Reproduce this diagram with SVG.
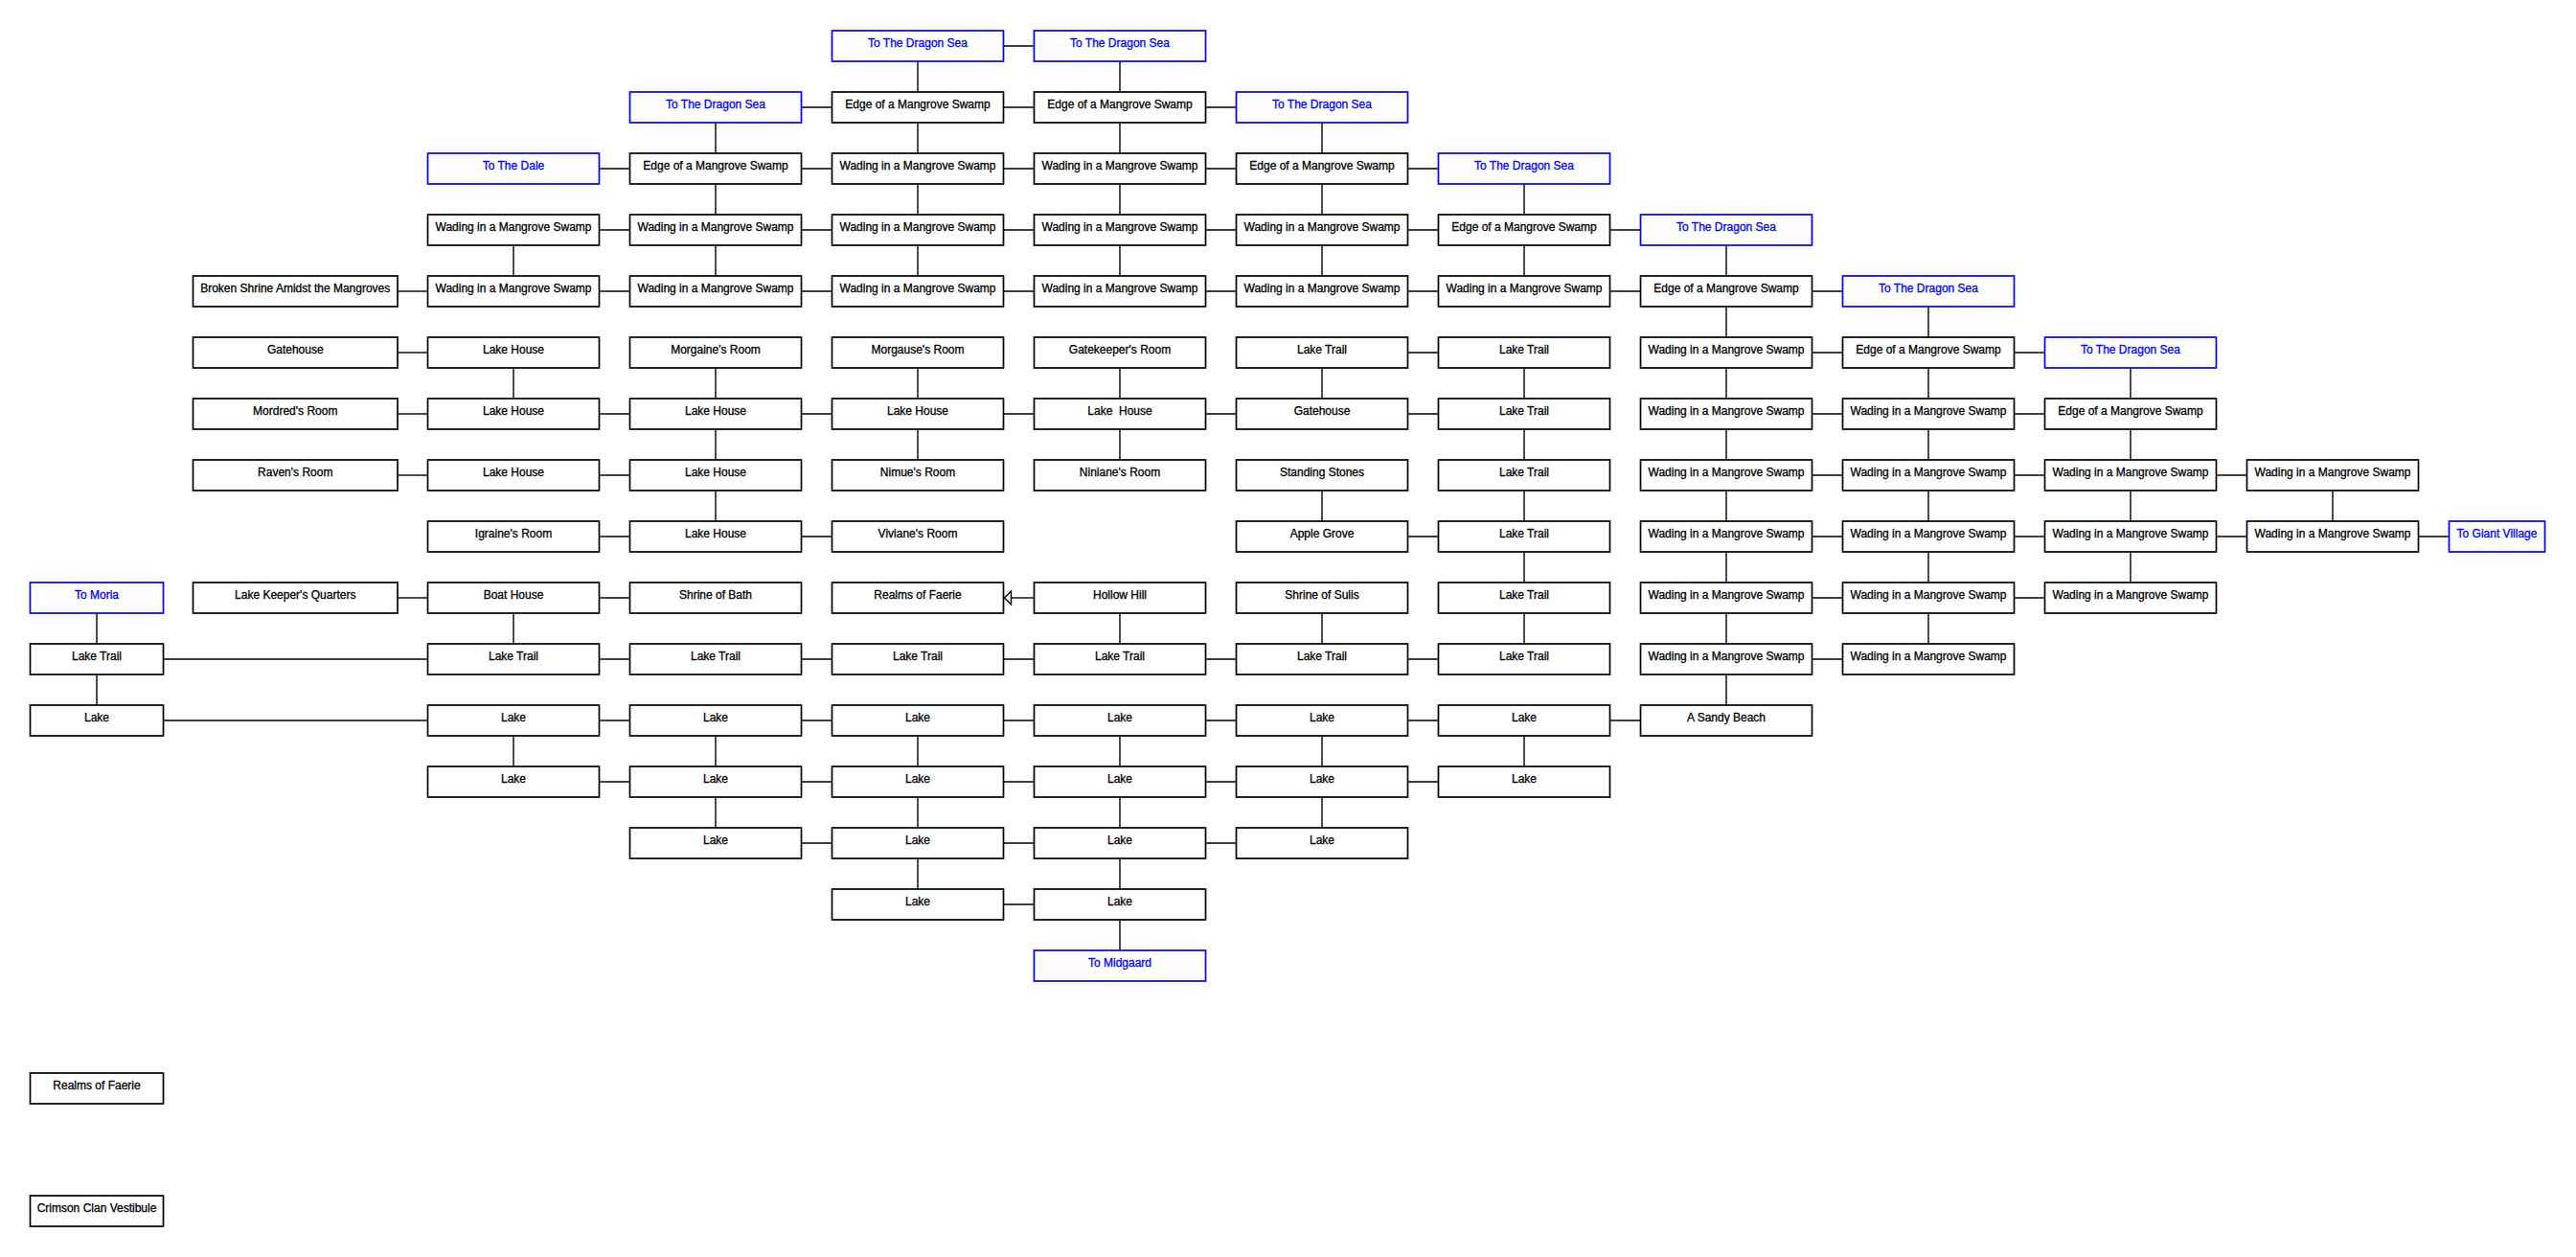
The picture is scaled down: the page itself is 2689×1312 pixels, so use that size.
<svg xmlns="http://www.w3.org/2000/svg" width="2689" height="1312" viewBox="0 0 2689 1312">
<style>
.box{fill:#fff;stroke:#000;stroke-width:1.7}
.exit{fill:#fff;stroke:#0000ff;stroke-width:1.7}
.lbl{font-family:"Liberation Sans",Arial,sans-serif;font-size:12px;fill:#000;stroke:#000;stroke-width:0.3;text-anchor:middle}
.lblx{font-family:"Liberation Sans",Arial,sans-serif;font-size:12px;fill:#0000ff;stroke:#0000ff;stroke-width:0.3;text-anchor:middle}
.c path{fill:none;stroke:#000;stroke-width:1.4}
.arrowhead{fill:#fff;stroke:#000;stroke-width:1.4}
</style>
<rect width="2689" height="1312" fill="#fff"/>
<g id="connectors" class="c">
<path d="M1047.5 48H1079.5"/>
<path d="M836.5 112H868.5"/><path d="M1047.5 112H1079.5"/><path d="M1258.5 112H1290.5"/>
<path d="M625.5 176H657.5"/><path d="M836.5 176H868.5"/><path d="M1047.5 176H1079.5"/><path d="M1258.5 176H1290.5"/><path d="M1469.5 176H1501.5"/>
<path d="M625.5 240H657.5"/><path d="M836.5 240H868.5"/><path d="M1047.5 240H1079.5"/><path d="M1258.5 240H1290.5"/><path d="M1469.5 240H1501.5"/><path d="M1680.5 240H1712.5"/>
<path d="M415 304H446.5"/><path d="M625.5 304H657.5"/><path d="M836.5 304H868.5"/><path d="M1047.5 304H1079.5"/><path d="M1258.5 304H1290.5"/><path d="M1469.5 304H1501.5"/><path d="M1680.5 304H1712.5"/><path d="M1891.5 304H1923.5"/>
<path d="M415 368H446.5"/><path d="M1469.5 368H1501.5"/><path d="M1891.5 368H1923.5"/><path d="M2102.5 368H2134.5"/>
<path d="M415 432H446.5"/><path d="M625.5 432H657.5"/><path d="M836.5 432H868.5"/><path d="M1047.5 432H1079.5"/><path d="M1258.5 432H1290.5"/><path d="M1469.5 432H1501.5"/><path d="M1891.5 432H1923.5"/><path d="M2102.5 432H2134.5"/>
<path d="M415 496H446.5"/><path d="M625.5 496H657.5"/><path d="M1891.5 496H1923.5"/><path d="M2102.5 496H2134.5"/><path d="M2313.5 496H2345.5"/>
<path d="M625.5 560H657.5"/><path d="M836.5 560H868.5"/><path d="M1469.5 560H1501.5"/><path d="M1891.5 560H1923.5"/><path d="M2102.5 560H2134.5"/><path d="M2313.5 560H2345.5"/><path d="M2524.5 560H2556.5"/>
<path d="M415 624H446.5"/><path d="M625.5 624H657.5"/><path d="M1079.5 624H1055.5"/><path d="M1891.5 624H1923.5"/><path d="M2102.5 624H2134.5"/>
<path d="M170.5 688H446.5"/><path d="M625.5 688H657.5"/><path d="M836.5 688H868.5"/><path d="M1047.5 688H1079.5"/><path d="M1258.5 688H1290.5"/><path d="M1469.5 688H1501.5"/><path d="M1891.5 688H1923.5"/>
<path d="M170.5 752H446.5"/><path d="M625.5 752H657.5"/><path d="M836.5 752H868.5"/><path d="M1047.5 752H1079.5"/><path d="M1258.5 752H1290.5"/><path d="M1469.5 752H1501.5"/><path d="M1680.5 752H1712.5"/>
<path d="M625.5 816H657.5"/><path d="M836.5 816H868.5"/><path d="M1047.5 816H1079.5"/><path d="M1258.5 816H1290.5"/><path d="M1469.5 816H1501.5"/>
<path d="M836.5 880H868.5"/><path d="M1047.5 880H1079.5"/><path d="M1258.5 880H1290.5"/>
<path d="M1047.5 944H1079.5"/>
<path d="M101 640V672"/><path d="M101 704V736"/>
<path d="M536 256V288"/><path d="M536 384V416"/><path d="M536 640V672"/><path d="M536 768V800"/>
<path d="M747 128V160"/><path d="M747 192V224"/><path d="M747 256V288"/><path d="M747 384V416"/><path d="M747 448V480"/><path d="M747 512V544"/><path d="M747 768V800"/><path d="M747 832V864"/>
<path d="M958 64V96"/><path d="M958 128V160"/><path d="M958 192V224"/><path d="M958 256V288"/><path d="M958 384V416"/><path d="M958 448V480"/><path d="M958 768V800"/><path d="M958 832V864"/><path d="M958 896V928"/>
<path d="M1169 64V96"/><path d="M1169 128V160"/><path d="M1169 192V224"/><path d="M1169 256V288"/><path d="M1169 384V416"/><path d="M1169 448V480"/><path d="M1169 640V672"/><path d="M1169 768V800"/><path d="M1169 832V864"/><path d="M1169 896V928"/><path d="M1169 960V992"/>
<path d="M1380 128V160"/><path d="M1380 192V224"/><path d="M1380 256V288"/><path d="M1380 384V416"/><path d="M1380 512V544"/><path d="M1380 640V672"/><path d="M1380 768V800"/><path d="M1380 832V864"/>
<path d="M1591 192V224"/><path d="M1591 256V288"/><path d="M1591 384V416"/><path d="M1591 448V480"/><path d="M1591 512V544"/><path d="M1591 576V608"/><path d="M1591 640V672"/><path d="M1591 768V800"/>
<path d="M1802 256V288"/><path d="M1802 320V352"/><path d="M1802 384V416"/><path d="M1802 448V480"/><path d="M1802 512V544"/><path d="M1802 576V608"/><path d="M1802 640V672"/><path d="M1802 704V736"/>
<path d="M2013 320V352"/><path d="M2013 384V416"/><path d="M2013 448V480"/><path d="M2013 512V544"/><path d="M2013 576V608"/><path d="M2013 640V672"/>
<path d="M2224 384V416"/><path d="M2224 448V480"/><path d="M2224 512V544"/><path d="M2224 576V608"/>
<path d="M2435 512V544"/>
<polygon class="arrowhead" points="1048.5,624 1055.5,617 1055.5,631"/>
</g>
<g id="nodes">
<g id="n_E0"><rect class="exit" x="868.5" y="32" width="179" height="32"/><text class="lblx" x="958" y="49">To The Dragon Sea</text></g>
<g id="n_F0"><rect class="exit" x="1079.5" y="32" width="179" height="32"/><text class="lblx" x="1169" y="49">To The Dragon Sea</text></g>
<g id="n_D1"><rect class="exit" x="657.5" y="96" width="179" height="32"/><text class="lblx" x="747" y="113">To The Dragon Sea</text></g>
<g id="n_E1"><rect class="box" x="868.5" y="96" width="179" height="32"/><text class="lbl" x="958" y="113">Edge of a Mangrove Swamp</text></g>
<g id="n_F1"><rect class="box" x="1079.5" y="96" width="179" height="32"/><text class="lbl" x="1169" y="113">Edge of a Mangrove Swamp</text></g>
<g id="n_G1"><rect class="exit" x="1290.5" y="96" width="179" height="32"/><text class="lblx" x="1380" y="113">To The Dragon Sea</text></g>
<g id="n_C2"><rect class="exit" x="446.5" y="160" width="179" height="32"/><text class="lblx" x="536" y="177">To The Dale</text></g>
<g id="n_D2"><rect class="box" x="657.5" y="160" width="179" height="32"/><text class="lbl" x="747" y="177">Edge of a Mangrove Swamp</text></g>
<g id="n_E2"><rect class="box" x="868.5" y="160" width="179" height="32"/><text class="lbl" x="958" y="177">Wading in a Mangrove Swamp</text></g>
<g id="n_F2"><rect class="box" x="1079.5" y="160" width="179" height="32"/><text class="lbl" x="1169" y="177">Wading in a Mangrove Swamp</text></g>
<g id="n_G2"><rect class="box" x="1290.5" y="160" width="179" height="32"/><text class="lbl" x="1380" y="177">Edge of a Mangrove Swamp</text></g>
<g id="n_H2"><rect class="exit" x="1501.5" y="160" width="179" height="32"/><text class="lblx" x="1591" y="177">To The Dragon Sea</text></g>
<g id="n_C3"><rect class="box" x="446.5" y="224" width="179" height="32"/><text class="lbl" x="536" y="241">Wading in a Mangrove Swamp</text></g>
<g id="n_D3"><rect class="box" x="657.5" y="224" width="179" height="32"/><text class="lbl" x="747" y="241">Wading in a Mangrove Swamp</text></g>
<g id="n_E3"><rect class="box" x="868.5" y="224" width="179" height="32"/><text class="lbl" x="958" y="241">Wading in a Mangrove Swamp</text></g>
<g id="n_F3"><rect class="box" x="1079.5" y="224" width="179" height="32"/><text class="lbl" x="1169" y="241">Wading in a Mangrove Swamp</text></g>
<g id="n_G3"><rect class="box" x="1290.5" y="224" width="179" height="32"/><text class="lbl" x="1380" y="241">Wading in a Mangrove Swamp</text></g>
<g id="n_H3"><rect class="box" x="1501.5" y="224" width="179" height="32"/><text class="lbl" x="1591" y="241">Edge of a Mangrove Swamp</text></g>
<g id="n_I3"><rect class="exit" x="1712.5" y="224" width="179" height="32"/><text class="lblx" x="1802" y="241">To The Dragon Sea</text></g>
<g id="n_B4"><rect class="box" x="201.5" y="288" width="213.5" height="32"/><text class="lbl" x="308.25" y="305">Broken Shrine Amidst the Mangroves</text></g>
<g id="n_C4"><rect class="box" x="446.5" y="288" width="179" height="32"/><text class="lbl" x="536" y="305">Wading in a Mangrove Swamp</text></g>
<g id="n_D4"><rect class="box" x="657.5" y="288" width="179" height="32"/><text class="lbl" x="747" y="305">Wading in a Mangrove Swamp</text></g>
<g id="n_E4"><rect class="box" x="868.5" y="288" width="179" height="32"/><text class="lbl" x="958" y="305">Wading in a Mangrove Swamp</text></g>
<g id="n_F4"><rect class="box" x="1079.5" y="288" width="179" height="32"/><text class="lbl" x="1169" y="305">Wading in a Mangrove Swamp</text></g>
<g id="n_G4"><rect class="box" x="1290.5" y="288" width="179" height="32"/><text class="lbl" x="1380" y="305">Wading in a Mangrove Swamp</text></g>
<g id="n_H4"><rect class="box" x="1501.5" y="288" width="179" height="32"/><text class="lbl" x="1591" y="305">Wading in a Mangrove Swamp</text></g>
<g id="n_I4"><rect class="box" x="1712.5" y="288" width="179" height="32"/><text class="lbl" x="1802" y="305">Edge of a Mangrove Swamp</text></g>
<g id="n_J4"><rect class="exit" x="1923.5" y="288" width="179" height="32"/><text class="lblx" x="2013" y="305">To The Dragon Sea</text></g>
<g id="n_B5"><rect class="box" x="201.5" y="352" width="213.5" height="32"/><text class="lbl" x="308.25" y="369">Gatehouse</text></g>
<g id="n_C5"><rect class="box" x="446.5" y="352" width="179" height="32"/><text class="lbl" x="536" y="369">Lake House</text></g>
<g id="n_D5"><rect class="box" x="657.5" y="352" width="179" height="32"/><text class="lbl" x="747" y="369">Morgaine's Room</text></g>
<g id="n_E5"><rect class="box" x="868.5" y="352" width="179" height="32"/><text class="lbl" x="958" y="369">Morgause's Room</text></g>
<g id="n_F5"><rect class="box" x="1079.5" y="352" width="179" height="32"/><text class="lbl" x="1169" y="369">Gatekeeper's Room</text></g>
<g id="n_G5"><rect class="box" x="1290.5" y="352" width="179" height="32"/><text class="lbl" x="1380" y="369">Lake Trail</text></g>
<g id="n_H5"><rect class="box" x="1501.5" y="352" width="179" height="32"/><text class="lbl" x="1591" y="369">Lake Trail</text></g>
<g id="n_I5"><rect class="box" x="1712.5" y="352" width="179" height="32"/><text class="lbl" x="1802" y="369">Wading in a Mangrove Swamp</text></g>
<g id="n_J5"><rect class="box" x="1923.5" y="352" width="179" height="32"/><text class="lbl" x="2013" y="369">Edge of a Mangrove Swamp</text></g>
<g id="n_K5"><rect class="exit" x="2134.5" y="352" width="179" height="32"/><text class="lblx" x="2224" y="369">To The Dragon Sea</text></g>
<g id="n_B6"><rect class="box" x="201.5" y="416" width="213.5" height="32"/><text class="lbl" x="308.25" y="433">Mordred's Room</text></g>
<g id="n_C6"><rect class="box" x="446.5" y="416" width="179" height="32"/><text class="lbl" x="536" y="433">Lake House</text></g>
<g id="n_D6"><rect class="box" x="657.5" y="416" width="179" height="32"/><text class="lbl" x="747" y="433">Lake House</text></g>
<g id="n_E6"><rect class="box" x="868.5" y="416" width="179" height="32"/><text class="lbl" x="958" y="433">Lake House</text></g>
<g id="n_F6"><rect class="box" x="1079.5" y="416" width="179" height="32"/><text class="lbl" x="1169" y="433" xml:space="preserve">Lake  House</text></g>
<g id="n_G6"><rect class="box" x="1290.5" y="416" width="179" height="32"/><text class="lbl" x="1380" y="433">Gatehouse</text></g>
<g id="n_H6"><rect class="box" x="1501.5" y="416" width="179" height="32"/><text class="lbl" x="1591" y="433">Lake Trail</text></g>
<g id="n_I6"><rect class="box" x="1712.5" y="416" width="179" height="32"/><text class="lbl" x="1802" y="433">Wading in a Mangrove Swamp</text></g>
<g id="n_J6"><rect class="box" x="1923.5" y="416" width="179" height="32"/><text class="lbl" x="2013" y="433">Wading in a Mangrove Swamp</text></g>
<g id="n_K6"><rect class="box" x="2134.5" y="416" width="179" height="32"/><text class="lbl" x="2224" y="433">Edge of a Mangrove Swamp</text></g>
<g id="n_B7"><rect class="box" x="201.5" y="480" width="213.5" height="32"/><text class="lbl" x="308.25" y="497">Raven's Room</text></g>
<g id="n_C7"><rect class="box" x="446.5" y="480" width="179" height="32"/><text class="lbl" x="536" y="497">Lake House</text></g>
<g id="n_D7"><rect class="box" x="657.5" y="480" width="179" height="32"/><text class="lbl" x="747" y="497">Lake House</text></g>
<g id="n_E7"><rect class="box" x="868.5" y="480" width="179" height="32"/><text class="lbl" x="958" y="497">Nimue's Room</text></g>
<g id="n_F7"><rect class="box" x="1079.5" y="480" width="179" height="32"/><text class="lbl" x="1169" y="497">Niniane's Room</text></g>
<g id="n_G7"><rect class="box" x="1290.5" y="480" width="179" height="32"/><text class="lbl" x="1380" y="497">Standing Stones</text></g>
<g id="n_H7"><rect class="box" x="1501.5" y="480" width="179" height="32"/><text class="lbl" x="1591" y="497">Lake Trail</text></g>
<g id="n_I7"><rect class="box" x="1712.5" y="480" width="179" height="32"/><text class="lbl" x="1802" y="497">Wading in a Mangrove Swamp</text></g>
<g id="n_J7"><rect class="box" x="1923.5" y="480" width="179" height="32"/><text class="lbl" x="2013" y="497">Wading in a Mangrove Swamp</text></g>
<g id="n_K7"><rect class="box" x="2134.5" y="480" width="179" height="32"/><text class="lbl" x="2224" y="497">Wading in a Mangrove Swamp</text></g>
<g id="n_L7"><rect class="box" x="2345.5" y="480" width="179" height="32"/><text class="lbl" x="2435" y="497">Wading in a Mangrove Swamp</text></g>
<g id="n_C8"><rect class="box" x="446.5" y="544" width="179" height="32"/><text class="lbl" x="536" y="561">Igraine's Room</text></g>
<g id="n_D8"><rect class="box" x="657.5" y="544" width="179" height="32"/><text class="lbl" x="747" y="561">Lake House</text></g>
<g id="n_E8"><rect class="box" x="868.5" y="544" width="179" height="32"/><text class="lbl" x="958" y="561">Viviane's Room</text></g>
<g id="n_G8"><rect class="box" x="1290.5" y="544" width="179" height="32"/><text class="lbl" x="1380" y="561">Apple Grove</text></g>
<g id="n_H8"><rect class="box" x="1501.5" y="544" width="179" height="32"/><text class="lbl" x="1591" y="561">Lake Trail</text></g>
<g id="n_I8"><rect class="box" x="1712.5" y="544" width="179" height="32"/><text class="lbl" x="1802" y="561">Wading in a Mangrove Swamp</text></g>
<g id="n_J8"><rect class="box" x="1923.5" y="544" width="179" height="32"/><text class="lbl" x="2013" y="561">Wading in a Mangrove Swamp</text></g>
<g id="n_K8"><rect class="box" x="2134.5" y="544" width="179" height="32"/><text class="lbl" x="2224" y="561">Wading in a Mangrove Swamp</text></g>
<g id="n_L8"><rect class="box" x="2345.5" y="544" width="179" height="32"/><text class="lbl" x="2435" y="561">Wading in a Mangrove Swamp</text></g>
<g id="n_M8"><rect class="exit" x="2556.5" y="544" width="100" height="32"/><text class="lblx" x="2606.5" y="561">To Giant Village</text></g>
<g id="n_A9"><rect class="exit" x="31.5" y="608" width="139" height="32"/><text class="lblx" x="101" y="625">To Moria</text></g>
<g id="n_B9"><rect class="box" x="201.5" y="608" width="213.5" height="32"/><text class="lbl" x="308.25" y="625">Lake Keeper's Quarters</text></g>
<g id="n_C9"><rect class="box" x="446.5" y="608" width="179" height="32"/><text class="lbl" x="536" y="625">Boat House</text></g>
<g id="n_D9"><rect class="box" x="657.5" y="608" width="179" height="32"/><text class="lbl" x="747" y="625">Shrine of Bath</text></g>
<g id="n_E9"><rect class="box" x="868.5" y="608" width="179" height="32"/><text class="lbl" x="958" y="625">Realms of Faerie</text></g>
<g id="n_F9"><rect class="box" x="1079.5" y="608" width="179" height="32"/><text class="lbl" x="1169" y="625">Hollow Hill</text></g>
<g id="n_G9"><rect class="box" x="1290.5" y="608" width="179" height="32"/><text class="lbl" x="1380" y="625">Shrine of Sulis</text></g>
<g id="n_H9"><rect class="box" x="1501.5" y="608" width="179" height="32"/><text class="lbl" x="1591" y="625">Lake Trail</text></g>
<g id="n_I9"><rect class="box" x="1712.5" y="608" width="179" height="32"/><text class="lbl" x="1802" y="625">Wading in a Mangrove Swamp</text></g>
<g id="n_J9"><rect class="box" x="1923.5" y="608" width="179" height="32"/><text class="lbl" x="2013" y="625">Wading in a Mangrove Swamp</text></g>
<g id="n_K9"><rect class="box" x="2134.5" y="608" width="179" height="32"/><text class="lbl" x="2224" y="625">Wading in a Mangrove Swamp</text></g>
<g id="n_A10"><rect class="box" x="31.5" y="672" width="139" height="32"/><text class="lbl" x="101" y="689">Lake Trail</text></g>
<g id="n_C10"><rect class="box" x="446.5" y="672" width="179" height="32"/><text class="lbl" x="536" y="689">Lake Trail</text></g>
<g id="n_D10"><rect class="box" x="657.5" y="672" width="179" height="32"/><text class="lbl" x="747" y="689">Lake Trail</text></g>
<g id="n_E10"><rect class="box" x="868.5" y="672" width="179" height="32"/><text class="lbl" x="958" y="689">Lake Trail</text></g>
<g id="n_F10"><rect class="box" x="1079.5" y="672" width="179" height="32"/><text class="lbl" x="1169" y="689">Lake Trail</text></g>
<g id="n_G10"><rect class="box" x="1290.5" y="672" width="179" height="32"/><text class="lbl" x="1380" y="689">Lake Trail</text></g>
<g id="n_H10"><rect class="box" x="1501.5" y="672" width="179" height="32"/><text class="lbl" x="1591" y="689">Lake Trail</text></g>
<g id="n_I10"><rect class="box" x="1712.5" y="672" width="179" height="32"/><text class="lbl" x="1802" y="689">Wading in a Mangrove Swamp</text></g>
<g id="n_J10"><rect class="box" x="1923.5" y="672" width="179" height="32"/><text class="lbl" x="2013" y="689">Wading in a Mangrove Swamp</text></g>
<g id="n_A11"><rect class="box" x="31.5" y="736" width="139" height="32"/><text class="lbl" x="101" y="753">Lake</text></g>
<g id="n_C11"><rect class="box" x="446.5" y="736" width="179" height="32"/><text class="lbl" x="536" y="753">Lake</text></g>
<g id="n_D11"><rect class="box" x="657.5" y="736" width="179" height="32"/><text class="lbl" x="747" y="753">Lake</text></g>
<g id="n_E11"><rect class="box" x="868.5" y="736" width="179" height="32"/><text class="lbl" x="958" y="753">Lake</text></g>
<g id="n_F11"><rect class="box" x="1079.5" y="736" width="179" height="32"/><text class="lbl" x="1169" y="753">Lake</text></g>
<g id="n_G11"><rect class="box" x="1290.5" y="736" width="179" height="32"/><text class="lbl" x="1380" y="753">Lake</text></g>
<g id="n_H11"><rect class="box" x="1501.5" y="736" width="179" height="32"/><text class="lbl" x="1591" y="753">Lake</text></g>
<g id="n_I11"><rect class="box" x="1712.5" y="736" width="179" height="32"/><text class="lbl" x="1802" y="753">A Sandy Beach</text></g>
<g id="n_C12"><rect class="box" x="446.5" y="800" width="179" height="32"/><text class="lbl" x="536" y="817">Lake</text></g>
<g id="n_D12"><rect class="box" x="657.5" y="800" width="179" height="32"/><text class="lbl" x="747" y="817">Lake</text></g>
<g id="n_E12"><rect class="box" x="868.5" y="800" width="179" height="32"/><text class="lbl" x="958" y="817">Lake</text></g>
<g id="n_F12"><rect class="box" x="1079.5" y="800" width="179" height="32"/><text class="lbl" x="1169" y="817">Lake</text></g>
<g id="n_G12"><rect class="box" x="1290.5" y="800" width="179" height="32"/><text class="lbl" x="1380" y="817">Lake</text></g>
<g id="n_H12"><rect class="box" x="1501.5" y="800" width="179" height="32"/><text class="lbl" x="1591" y="817">Lake</text></g>
<g id="n_D13"><rect class="box" x="657.5" y="864" width="179" height="32"/><text class="lbl" x="747" y="881">Lake</text></g>
<g id="n_E13"><rect class="box" x="868.5" y="864" width="179" height="32"/><text class="lbl" x="958" y="881">Lake</text></g>
<g id="n_F13"><rect class="box" x="1079.5" y="864" width="179" height="32"/><text class="lbl" x="1169" y="881">Lake</text></g>
<g id="n_G13"><rect class="box" x="1290.5" y="864" width="179" height="32"/><text class="lbl" x="1380" y="881">Lake</text></g>
<g id="n_E14"><rect class="box" x="868.5" y="928" width="179" height="32"/><text class="lbl" x="958" y="945">Lake</text></g>
<g id="n_F14"><rect class="box" x="1079.5" y="928" width="179" height="32"/><text class="lbl" x="1169" y="945">Lake</text></g>
<g id="n_F15"><rect class="exit" x="1079.5" y="992" width="179" height="32"/><text class="lblx" x="1169" y="1009">To Midgaard</text></g>
<g id="n_A17"><rect class="box" x="31.5" y="1120" width="139" height="32"/><text class="lbl" x="101" y="1137">Realms of Faerie</text></g>
<g id="n_A19"><rect class="box" x="31.5" y="1248" width="139" height="32"/><text class="lbl" x="101" y="1265">Crimson Clan Vestibule</text></g>
</g>
</svg>
